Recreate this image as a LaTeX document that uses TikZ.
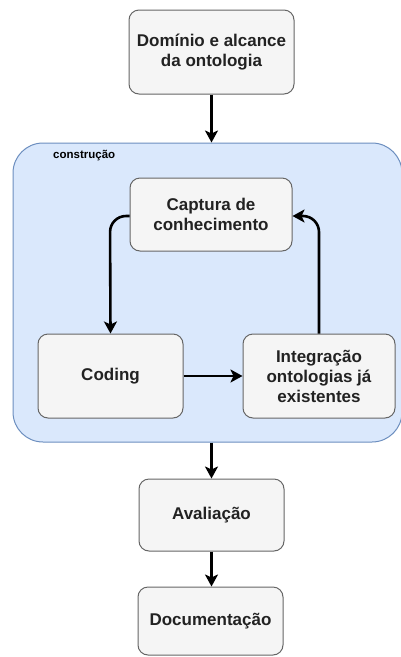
\documentclass[tikz,border=0pt]{standalone}
\usepackage{fontspec}
\setmainfont{Liberation Sans}
\usetikzlibrary{arrows.meta}
\definecolor{boxfill}{HTML}{F5F5F5}
\definecolor{boxline}{HTML}{666666}
\definecolor{grpfill}{HTML}{DAE8FC}
\definecolor{grpline}{HTML}{6C8EBF}
\definecolor{txt}{HTML}{222222}
\tikzset{
  stepbox/.style={draw=boxline, fill=boxfill, line width=1pt, rounded corners=10pt,
    align=center, text=txt, inner sep=0pt,
    font=\fontsize{17}{20}\selectfont\bfseries},
  flow/.style={draw=black, line width=2.6pt,
    -{Stealth[length=12pt,width=13pt,inset=3pt]}},
}
\begin{document}
\begin{tikzpicture}[x=1pt,y=-1pt]
\useasboundingbox (0,0) rectangle (401,657);
\clip (0,0) rectangle (401,657);

% construction group
\node[draw=grpline, fill=grpfill, line width=1pt, rounded corners=30pt,
  minimum width=389pt, minimum height=299pt, inner sep=0pt] (cons) at (207.5,292.5) {};
\node[anchor=west, text=black, inner sep=0pt,
  font=\fontsize{11.5}{13}\selectfont\bfseries] (conslbl) at (53,156) {construção};

% steps
\node[stepbox, minimum width=165pt, minimum height=84pt] (dom) at (211.5,52) {Domínio e alcance\\da ontologia};
\node[stepbox, minimum width=162pt, minimum height=73pt] (cap) at (211,214.5) {Captura de\\conhecimento};
\node[stepbox, minimum width=145pt, minimum height=84pt] (cod) at (110.5,376) {Coding};
\node[stepbox, minimum width=152pt, minimum height=84pt] (int) at (319,376) {Integração\\ontologias já\\existentes};
\node[stepbox, minimum width=145pt, minimum height=72pt] (ava) at (211.5,515) {Avaliação};
\node[stepbox, minimum width=145pt, minimum height=68pt] (doc) at (210.5,621) {Documentação};

% connectors
\draw[flow] (dom.south) -- (dom.south |- cons.north);
\coordinate (c1) at (cap.west |- 0,216);
\draw[flow, rounded corners=16pt] (c1) -- (110,216) -- (cod.north);
\coordinate (c2) at (int.north);
\draw[flow, rounded corners=16pt] (c2) -- (319,216) -- (cap.east |- 0,216);
\draw[flow] (cod.east) -- (int.west);
\draw[flow] (ava.north |- cons.south) -- (ava.north);
\draw[flow] (ava.south) -- (ava.south |- doc.north);
\end{tikzpicture}
\end{document}
